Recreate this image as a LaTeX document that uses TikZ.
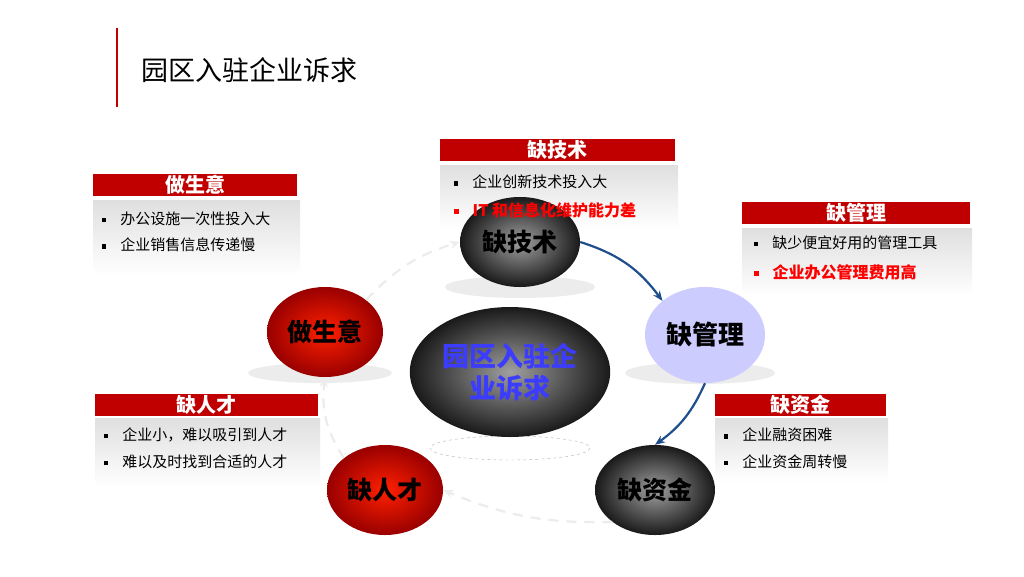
\documentclass[tikz,border=0pt]{standalone}
\usepackage{fontspec}
\setmainfont{Noto Sans CJK SC}
\usetikzlibrary{arrows.meta,shadings,shapes.geometric}
\definecolor{hdr}{HTML}{C00000}
\definecolor{flowc}{HTML}{1F4E8C}
\tikzset{
 hdrbox/.style={fill=hdr,minimum height=22pt,inner sep=0pt,text=white,font=\fontsize{20}{20}\selectfont\bfseries},
 graybox/.style={top color=gray!25,bottom color=white,draw=none},
 darkball/.style={inner color=gray!75,outer color=black!90,minimum width=120pt,minimum height=90pt,ellipse},
 redball/.style={inner color=red!75!orange,outer color=red!60!black,minimum width=116pt,minimum height=90pt,ellipse},
 shadowel/.style={fill=gray!15,draw=none},
 blab/.style={font=\fontsize{25}{25}\selectfont\bfseries,text=black},
 bul/.style={anchor=west,font=\fontsize{15}{15}\selectfont},
 flow/.style={-{Stealth[length=10pt,width=8pt]},line width=2.2pt,draw=flowc},
 faint/.style={-{Stealth[length=10pt,width=8pt]},line width=2.2pt,draw=gray!15,dashed,dash pattern=on 10pt off 8pt},
}
\newcommand{\sq}{\rule[0.15em]{0.32em}{0.32em}\hspace{14pt}}
\begin{document}
\begin{tikzpicture}[x=1pt,y=-1pt]
\useasboundingbox (0,0) rectangle (1024,576);
\fill[white] (0,0) rectangle (1024,576);
\draw[hdr,line width=2.5pt] (117,28) -- (117,107);
\node[anchor=west,font=\fontsize{27}{27}\selectfont] (title) at (138,70) {园区入驻企业诉求};
% shadows
\fill[shadowel] (520,287) ellipse (75 and 11);
\fill[shadowel] (700,373) ellipse (75 and 11);
\fill[shadowel] (320,373) ellipse (72 and 10);
\draw[gray!60,dashed,fill=white] (510,448) ellipse (80 and 12);
% boxes
\fill[graybox] (440,165) rectangle (678,228);
\node[hdrbox,minimum width=235pt] (h1) at (557,150) {缺技术};
\fill[graybox] (93,200) rectangle (300,275);
\node[hdrbox,minimum width=204pt] (h2) at (195,185) {做生意};
\node[bul] (b21) at (98,219) {\sq 办公设施一次性投入大};
\node[bul] (b22) at (98,245) {\sq 企业销售信息传递慢};
\fill[graybox] (742,228) rectangle (972,296);
\node[hdrbox,minimum width=228pt] (h3) at (856,213) {缺管理};
\node[bul] (b31) at (750,243) {\sq 缺少便宜好用的管理工具};
\node[bul,text=red,font=\fontsize{16}{16}\selectfont\bfseries] (b32) at (750,272) {\sq 企业办公管理费用高};
\fill[graybox] (95,418) rectangle (320,487);
\node[hdrbox,minimum width=223pt] (h4) at (206,405) {缺人才};
\node[bul] (b41) at (100,435) {\sq 企业小，难以吸引到人才};
\node[bul] (b42) at (100,462) {\sq 难以及时找到合适的人才};
\fill[graybox] (715,418) rectangle (888,482);
\node[hdrbox,minimum width=171pt] (h5) at (800,405) {缺资金};
\node[bul] (b51) at (720,435) {\sq 企业融资困难};
\node[bul] (b52) at (720,462) {\sq 企业资金周转慢};
% balls
\node[darkball,blab] (js) at (520,242) {缺技术};
\node[ellipse,fill=blue!20,minimum width=120pt,minimum height=96pt,blab,font=\fontsize{26}{26}\selectfont\bfseries] (gl) at (705,335) {缺管理};
\node[darkball,blab] (zj) at (655,490) {缺资金};
\node[redball,blab] (rc) at (385,490) {缺人才};
\node[redball,blab] (zs) at (325,332) {做生意};
\node[ellipse,inner color=gray!75,outer color=black!90,minimum width=180pt,minimum height=130pt,align=center,text={rgb,255:red,60;green,60;blue,255},font=\fontsize{27}{32}\selectfont\bfseries] (c) at (510,372) {园区入驻企\\业诉求};
% texts over balls
\node[bul] (b11) at (450,182) {\sq 企业创新技术投入大};
\node[bul,text=red,font=\fontsize{16}{16}\selectfont\bfseries] (b12) at (450,210) {\sq IT 和信息化维护能力差};
% arrows
\draw[flow] (js.east) to[bend left=18] (gl.north west);
\draw[flow] (gl.south) to[bend left=15] (zj.north);
\draw[faint] (zj.south west) to[bend left=12] (rc.east);
\draw[faint] (rc.north west) to[bend left=20] (zs.south);
\draw[faint] (zs.north east) to[bend left=15] (js.west);
\end{tikzpicture}
\end{document}
